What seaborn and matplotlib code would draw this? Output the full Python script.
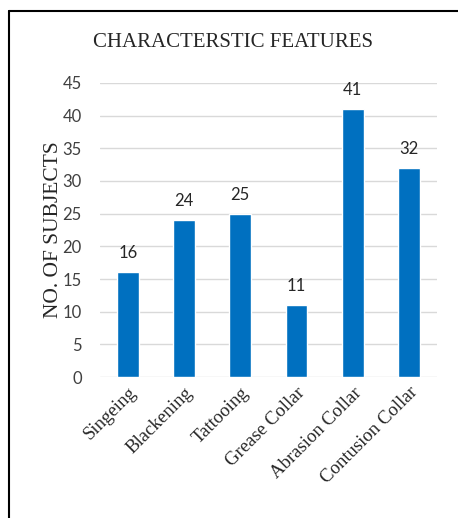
import matplotlib
matplotlib.use("Agg")
import matplotlib.pyplot as plt
from matplotlib.lines import Line2D
import seaborn as sns
import pandas as pd

categories = ["Singeing", "Blackening", "Tattooing", "Grease Collar",
              "Abrasion Collar", "Contusion Collar"]
subjects = [16, 24, 25, 11, 41, 32]
y_ticks = [0, 5, 10, 15, 20, 25, 30, 35, 40, 45]

df = pd.DataFrame({"feature": categories, "count": subjects})

sns.set_theme(style="white")
plt.rcParams["font.family"] = ["Lato", "DejaVu Sans"]

fig = plt.figure(figsize=(4.58, 5.18), dpi=100)
ax = fig.add_axes([0.218, 0.272, 0.736, 0.568])

sns.barplot(data=df, x="feature", y="count", color="#0070C0", saturation=1,
            width=0.39, ax=ax, zorder=3)

ax.set_ylim(0, 45)
ax.set_xlim(-0.5, len(categories) - 0.5)
ax.set_yticks(y_ticks)
ax.yaxis.grid(True, color="#D9D9D9", linewidth=1.0, zorder=0)
ax.set_axisbelow(True)
for s in ax.spines.values():
    s.set_visible(False)
ax.tick_params(axis="both", length=0)
ax.tick_params(axis="y", labelsize=12, labelcolor="#404040", pad=13)
ax.set_xlabel("")
ax.set_ylabel("NO. OF SUBJECTS", family="Liberation Serif", fontsize=15.5,
              color="#262626", labelpad=0)
ax.set_xticks(range(len(categories)))
ax.set_xticklabels(categories, rotation=45, ha="right", rotation_mode="anchor",
                   family="Liberation Serif", fontsize=13.5, color="#262626")
ax.tick_params(axis="x", pad=5)

for i, v in enumerate(subjects):
    ax.annotate(str(v), (i, v), xytext=(0, 8), textcoords="offset points",
                ha="center", va="bottom", fontsize=12, color="#262626")

fig.text(0.508, 0.918, "CHARACTERSTIC FEATURES", ha="center", va="center",
         family="Liberation Serif", fontsize=15, color="#262626")

# frame around the figure (left and top edges)
fig.add_artist(Line2D([8.5 / 458, 8.5 / 458], [0, 1 - 10.5 / 518],
                      transform=fig.transFigure, color="black", linewidth=1.5))
fig.add_artist(Line2D([8.5 / 458, 1], [1 - 10.5 / 518, 1 - 10.5 / 518],
                      transform=fig.transFigure, color="black", linewidth=1.5))

fig.savefig("out.png", dpi=100)
